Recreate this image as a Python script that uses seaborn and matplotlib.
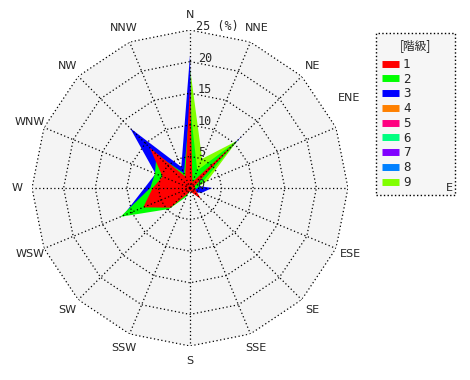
import numpy as np
import matplotlib
matplotlib.use("Agg")
import matplotlib.pyplot as plt
from matplotlib.lines import Line2D
import seaborn as sns

sns.set_theme(style="white")
plt.rcParams['font.family'] = ['DejaVu Sans', 'Noto Sans CJK JP']

directions = ["N", "NNE", "NE", "ENE", "E", "ESE", "SE", "SSE",
              "S", "SSW", "SW", "WSW", "W", "WNW", "NW", "NNW"]
classes = ["1", "2", "3", "4", "5", "6", "7", "8", "9"]

# frequency (%) per direction for each class
class1 = [16.0, 1.0, 10.3, 0.8, 0.8, 1.0, 2.5, 0.8, 0.5, 1.0, 4.4, 8.0, 5.9, 4.7, 9.0, 2.0]
class2 = [13.0, 3.0, 10.6, 2.0, 1.2, 0.8, 0.8, 0.5, 0.5, 1.5, 4.7, 11.9, 6.3, 6.0, 7.5, 2.5]
class3 = [21.0, 1.0, 11.8, 1.0, 3.5, 2.0, 1.0, 0.5, 0.5, 1.0, 2.0, 11.5, 7.2, 5.9, 13.4, 3.6]
class4 = [0.0] * 16
class5 = [0.0] * 16
class6 = [0.0] * 16
class7 = [0.0] * 16
class8 = [0.0] * 16
class9 = [19.0, 5.0, 10.6, 3.0, 1.0, 0.5, 0.5, 0.3, 0.3, 0.3, 0.5, 1.0, 1.0, 1.0, 1.0, 1.0]

series = [class1, class2, class3, class4, class5, class6, class7, class8, class9]
ring_values = [5, 10, 15, 20, 25]
rmax = 25

palette = sns.color_palette(["#ff0000", "#00ff00", "#0000ff", "#ff8000", "#ff0080",
                             "#00ff80", "#8000ff", "#0080ff", "#80ff00"])

W, H = 470, 380
fig = plt.figure(figsize=(W / 100, H / 100), dpi=100)
fig.patch.set_facecolor("white")

cx, cy, rad = 190, 188, 158
ax = fig.add_axes([(cx - rad) / W, (H - cy - rad) / H, 2 * rad / W, 2 * rad / H],
                  projection="polar")
ax.set_zorder(5)
ax.set_theta_zero_location("N")
ax.set_theta_direction(-1)
ax.set_ylim(0, rmax)
ax.grid(False)
ax.set_xticks([])
ax.set_yticks([])
ax.spines["polar"].set_visible(False)
ax.patch.set_alpha(0)

theta = np.deg2rad(np.arange(len(directions)) * 360.0 / len(directions))
theta_c = np.append(theta, theta[0])

# background polygon
ax.fill(theta_c, [rmax] * len(theta_c), color="#f4f4f4", zorder=0, lw=0)

# class polygons, drawn from 9 down to 1 (1 on top)
for i in range(len(series) - 1, -1, -1):
    vals = np.append(series[i], series[i][0])
    ax.fill(theta_c, vals, color=palette[i], lw=0, zorder=2 + (len(series) - i) * 0.01)

# dotted grid
dot = (0, (1, 2))
for r in ring_values:
    ax.plot(theta_c, [r] * len(theta_c), color="black", lw=0.9, ls=dot, zorder=5)
for t in theta:
    ax.plot([t, t], [0, rmax], color="black", lw=0.9, ls=dot, zorder=5)

mono = ["DejaVu Sans Mono"]
# ring labels
for r in [0] + ring_values[:-1]:
    ax.annotate(str(r), xy=(0, r), xytext=(5.5, 2.5), textcoords="offset points",
                ha="left", va="center", fontsize=8.5, family=mono, zorder=6)
ax.annotate("25 (%)", xy=(0, rmax), xytext=(4.5, 2.5), textcoords="offset points",
            ha="left", va="center", fontsize=8.5, family=mono, zorder=6)

# direction labels
label_r = 27.4
for d, t in zip(directions, theta):
    rr = label_r
    tt = t
    if d == "E":
        rr = 41.0
    if d == "ENE":
        tt = np.deg2rad(60.5)
        rr = 29.0
    ax.text(tt, rr, d, ha="center", va="center", fontsize=8, clip_on=False, zorder=20)

# legend
handles = [Line2D([0], [0], color=palette[i], lw=5, solid_capstyle="butt") for i in range(len(classes))]
leg = fig.legend(handles, classes, loc="upper left",
                 bbox_to_anchor=(376 / W, 1 - 33 / H, 79 / W, 0), mode="expand",
                 borderaxespad=0,
                 title="[階級]", fontsize=9, handlelength=1.35, handletextpad=0.35,
                 labelspacing=0.14, borderpad=0.45, fancybox=False, framealpha=1,
                 edgecolor="black",
                 title_fontproperties={"family": ["Noto Sans CJK JP", "DejaVu Sans"], "size": 8.5})
leg.get_frame().set_linestyle(":")
leg.get_frame().set_facecolor("#f6f6f6")
leg.get_frame().set_linewidth(1.0)
leg.set_zorder(1)
try:
    leg._legend_box.sep = 4.5
except Exception:
    pass
for txt in leg.get_texts():
    txt.set_family(mono)

fig.savefig("out.png", dpi=100)
